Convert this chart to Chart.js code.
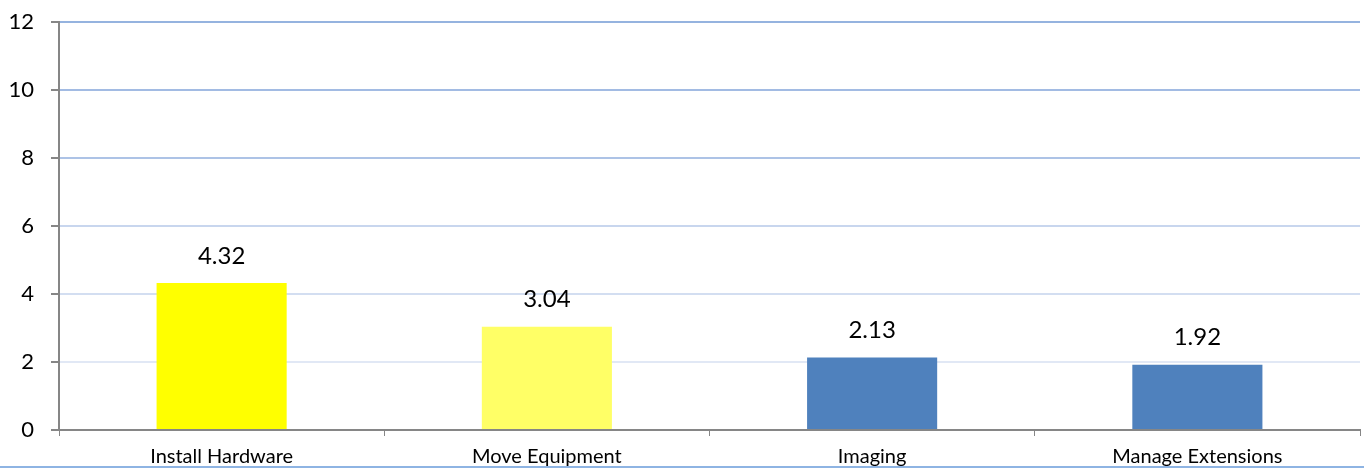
<!DOCTYPE html>
<html>
<head>
<meta charset="utf-8">
<script src="https://cdn.jsdelivr.net/npm/chart.js@4/dist/chart.umd.min.js"></script>
<style>
  html,body{margin:0;padding:0;background:#fff;}
  #wrap{width:1364px;height:469px;position:relative;}
</style>
</head>
<body>
<div id="wrap"><canvas id="barChart"></canvas></div>
<script>
const categories = ["Install Hardware","Move Equipment","Imaging","Manage Extensions"];
const values = [4.32,3.04,2.13,1.92];
const barColors = ["#FFFF00","#FFFF66","#4F81BD","#4F81BD"];
const yTicks = [0,2,4,6,8,10,12];

// gridlines fade from light (bottom) to stronger blue (top)
const gridColors = {0:"#868686",2:"#e1e8f5",4:"#d3def1",6:"#c8d6ee",8:"#adc3e6",10:"#a2bbe3",12:"#95b3df"};

const FONT = "Lato, 'Open Sans', sans-serif";

const valueLabels = {
    id:"valueLabels",
    afterDatasetsDraw(chart){
        const ctx = chart.ctx;
        const meta = chart.getDatasetMeta(0);
        ctx.save();
        ctx.font = "24px " + FONT;
        ctx.fillStyle = "#000";
        ctx.textAlign = "center";
        ctx.textBaseline = "middle";
        meta.data.forEach((bar,i)=>{
            ctx.fillText(values[i].toFixed(2), bar.x, bar.y - 27);
        });
        ctx.restore();
    }
};

const bottomRule = {
    id:"bottomRule",
    afterDraw(chart){
        const ctx = chart.ctx;
        ctx.save();
        ctx.strokeStyle = "#8eb4e3";
        ctx.lineWidth = 2;
        ctx.beginPath();
        ctx.moveTo(0, 467);
        ctx.lineTo(chart.width, 467);
        ctx.stroke();
        ctx.restore();
    }
};

new Chart(document.getElementById("barChart").getContext("2d"),{
    type:"bar",
    data:{
        labels:categories,
        datasets:[{
            data:values,
            backgroundColor:barColors,
            borderWidth:0,
            barPercentage:0.40,
            categoryPercentage:1
        }]
    },
    options:{
        responsive:true,
        maintainAspectRatio:false,
        animation:false,
        layout:{padding:{top:22,right:4,left:0,bottom:0}},
        plugins:{
            legend:{display:false},
            tooltip:{enabled:false}
        },
        scales:{
            x:{
                afterFit(scale){ scale.height = 39; },
                border:{color:"#868686",width:2},
                grid:{
                    offset:true,
                    drawOnChartArea:false,
                    color:"#868686",
                    tickLength:6
                },
                ticks:{
                    color:"#000",
                    font:{family:FONT,size:20},
                    padding:9,
                    maxRotation:0
                }
            },
            y:{
                min:0,
                max:12,
                afterFit(scale){
                    scale.width = 59;
                    scale.paddingTop = 0;
                    scale.paddingBottom = 0;
                },
                afterBuildTicks(scale){ scale.ticks = yTicks.map(v=>({value:v})); },
                border:{color:"#868686",width:2},
                grid:{
                    color:ctx=>gridColors[ctx.tick ? ctx.tick.value : 0] || "#c8d6ee",
                    lineWidth:2,
                    tickColor:"#868686",
                    tickLength:8
                },
                ticks:{
                    color:"#000",
                    font:{family:FONT,size:22},
                    padding:17
                }
            }
        }
    },
    plugins:[valueLabels,bottomRule]
});
</script>
</body>
</html>
